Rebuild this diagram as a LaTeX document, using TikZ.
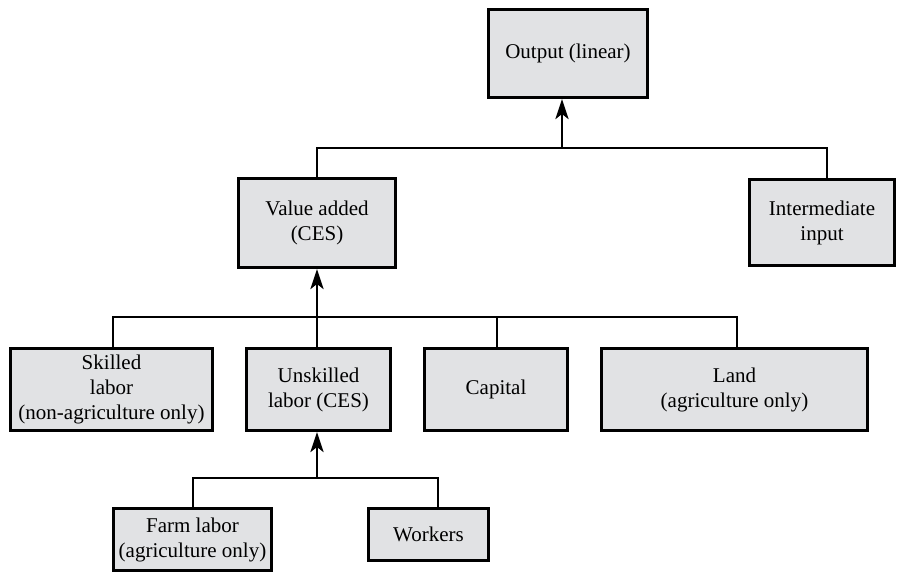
\documentclass[tikz,border=0pt]{standalone}
\usepackage{fontspec}
\setmainfont{Liberation Serif}
\usetikzlibrary{arrows.meta}
\definecolor{boxgray}{RGB}{225,226,228}
\tikzset{
  box/.style={draw=black, fill=boxgray, line width=3pt, align=center, inner sep=2pt,
    font=\fontsize{21}{25}\selectfont},
  link/.style={draw=black, line width=2.8pt},
  uparrow/.style={link, -{Stealth[length=20pt,width=13pt,inset=5pt]}}
}
\begin{document}
\begin{tikzpicture}[x=1pt,y=-1pt]
\useasboundingbox (0,0) rectangle (898,574);
% boxes
\node[box, minimum width=159pt, minimum height=88pt] (output) at (568,53.5) {Output (linear)};
\node[box, minimum width=157pt, minimum height=89pt] (value) at (317,223) {Value added\\(CES)};
\node[box, minimum width=145pt, minimum height=86pt] (interm) at (822,222.5) {Intermediate\\input};
\node[box, minimum width=202pt, minimum height=82pt] (skilled) at (111.5,389.5) {Skilled\\labor\\(non-agriculture only)};
\node[box, minimum width=144pt, minimum height=82pt] (unskilled) at (318.5,389.5) {Unskilled\\labor (CES)};
\node[box, minimum width=143pt, minimum height=82pt] (capital) at (496,389.5) {Capital};
\node[box, minimum width=266pt, minimum height=82pt] (land) at (734.5,389.5) {Land\\(agriculture only)};
\node[box, minimum width=158pt, minimum height=62pt] (farm) at (192.5,539.5) {Farm labor\\(agriculture only)};
\node[box, minimum width=120pt, minimum height=52pt] (workers) at (428.5,534.5) {Workers};
% junction coordinates
\coordinate (t1) at (317,148);
\coordinate (t2) at (827,148);
\coordinate (ta) at (562,148);
\coordinate (m1) at (113,317);
\coordinate (m2) at (737,317);
\coordinate (ma) at (317,317);
\coordinate (b1) at (193,478);
\coordinate (b2) at (438,478);
\coordinate (ba) at (317,478);
% top level
\draw[link] (value.north) -- (t1) -- (t2) -- (t2 |- interm.north);
\draw[uparrow] (ta) -- (ta |- output.south);
% middle level
\draw[link] (m1 |- skilled.north) -- (m1) -- (m2) -- (m2 |- land.north);
\draw[link] (497,317) -- (497,0 |- capital.north);
\draw[link] (ma) -- (ma |- unskilled.north);
\draw[uparrow] (ma) -- (ma |- value.south);
% bottom level
\draw[link] (b1 |- farm.north) -- (b1) -- (b2) -- (b2 |- workers.north);
\draw[uparrow] (ba) -- (ba |- unskilled.south);
\end{tikzpicture}
\end{document}
